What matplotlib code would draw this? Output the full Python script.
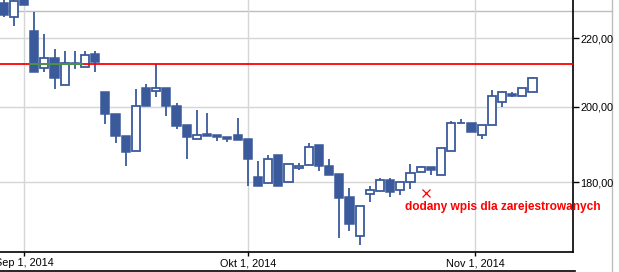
import numpy as np
import pandas as pd
import matplotlib
matplotlib.use("Agg")
import matplotlib.pyplot as plt
from matplotlib.lines import Line2D
from matplotlib.ticker import FixedLocator, NullLocator

plt.rcParams['font.family'] = ['Liberation Sans', 'DejaVu Sans']

# trading days 28.08.2014 - 10.11.2014
dates = pd.bdate_range("2014-08-28", "2014-11-10")

opens = [231.1, 226.7, 234.0, 222.3, 211.1, 214.1, 206.1, 212.6, 211.4, 215.3,
         204.1, 198.0, 192.0, 188.0, 205.3, 204.4, 205.3, 200.2, 195.0, 191.2,
         192.5, 192.3, 191.7, 192.3, 191.2, 181.3, 179.8, 187.0, 180.1, 183.5,
         184.4, 189.6, 184.1, 182.1, 176.3, 167.0, 177.1, 177.8, 180.6, 178.1,
         180.0, 182.6, 183.9, 181.9, 188.0, 195.4, 195.5, 192.3, 195.0, 201.3,
         203.6, 203.0, 204.1]
highs = [233.0, 233.5, 235.0, 228.2, 221.3, 216.8, 216.2, 216.2, 216.2, 216.2,
         204.1, 198.0, 192.0, 205.0, 206.4, 212.3, 205.3, 201.0, 195.0, 199.1,
         198.2, 192.3, 191.7, 196.9, 191.2, 185.4, 187.0, 187.0, 184.6, 184.9,
         190.1, 189.6, 185.9, 182.1, 178.6, 174.1, 179.1, 181.1, 181.1, 180.1,
         184.6, 184.1, 183.9, 188.8, 196.1, 196.6, 195.5, 195.0, 204.7, 204.4,
         204.1, 205.3, 208.5]
lows = [226.7, 223.8, 230.5, 209.9, 209.9, 205.0, 206.1, 210.8, 211.4, 209.9,
        195.2, 190.1, 184.1, 188.0, 200.2, 202.7, 197.4, 193.9, 185.9, 191.2,
        192.0, 190.7, 190.4, 190.9, 179.1, 179.1, 179.8, 179.1, 180.1, 183.1,
        184.4, 182.8, 181.8, 166.5, 168.2, 164.9, 175.1, 177.8, 176.3, 176.8,
        178.2, 182.6, 181.8, 181.9, 188.0, 195.4, 193.1, 191.2, 195.0, 199.9,
        202.7, 203.0, 204.1]
closes = [227.3, 231.8, 230.5, 209.9, 214.1, 208.2, 212.6, 212.3, 215.0, 212.9,
          198.0, 192.0, 187.8, 200.2, 200.2, 205.3, 200.2, 194.7, 191.7, 192.3,
          192.0, 191.7, 191.2, 190.9, 185.9, 179.1, 185.9, 179.1, 184.6, 184.1,
          189.1, 184.1, 181.8, 176.1, 169.8, 174.1, 178.1, 180.6, 177.6, 180.1,
          182.4, 183.9, 183.1, 188.8, 195.5, 195.6, 193.1, 195.0, 203.0, 204.1,
          203.0, 205.3, 208.2]

level = 212.2
y_ticks = [180, 200, 220]
y_labels = ["180,00", "200,00", "220,00"]
x_labels = ["Sep 1, 2014", "Okt 1, 2014", "Nov 1, 2014"]
note = "dodany wpis dla zarejestrowanych"

blue = "#3b5a9b"
grid = "#d6d6d6"

x = np.arange(len(dates))
o = np.array(opens); h = np.array(highs); l = np.array(lows); c = np.array(closes)
up = c >= o

fig = plt.figure(figsize=(6.19, 2.72), dpi=100)
ax = fig.add_axes([0, 20/272, 573/619, 252/272])
ax.patch.set_alpha(0)

# outer frame lines
fig.add_artist(Line2D([0, 612/619], [1-10.7/272]*2, transform=fig.transFigure,
                      color="#bdbdbd", lw=1, zorder=-5))
fig.add_artist(Line2D([612/619]*2, [0, 1], transform=fig.transFigure,
                      color="#bdbdbd", lw=1, zorder=-5))
fig.add_artist(Line2D([0, 575/619], [1.2/272]*2, transform=fig.transFigure,
                      color="black", lw=1.2))

ax.set_yscale("log")
ax.set_ylim(163.3, 232.1)
ax.set_xlim(-0.36, 55.98)

# whiskers
ax.vlines(x, l, h, color=blue, lw=1.3, zorder=2)
# bodies
lo = np.minimum(o, c); hi = np.maximum(o, c)
ax.bar(x[~up], (hi - lo)[~up], bottom=lo[~up], width=0.8, color=blue,
       edgecolor=blue, lw=1.1, zorder=3)
ax.bar(x[up], (hi - lo)[up], bottom=lo[up], width=0.8, color="white",
       edgecolor=blue, lw=1.3, zorder=3)

ax.axhline(level, color="red", lw=1.3, zorder=5)
ax.plot([2.6, 7.7], [level, level], color="#3aa04a", lw=1.3, zorder=6)

# grid
tick_pos = [2, 24, 46.35]
for t in y_ticks:
    ax.axhline(t, color=grid, lw=1, zorder=0)
for t in tick_pos:
    ax.axvline(t, color=grid, lw=1, zorder=0)

ax.yaxis.set_major_locator(FixedLocator(y_ticks))
ax.yaxis.set_minor_locator(NullLocator())
ax.set_yticklabels(y_labels)
ax.yaxis.tick_right()
ax.set_xticks(tick_pos)
ax.set_xticklabels(x_labels)
ax.tick_params(axis="both", labelsize=7.8, length=4, width=1, colors="black", pad=1.5)
ax.tick_params(axis="x", length=3)

for s in ["left", "top"]:
    ax.spines[s].set_visible(False)
for s in ["right", "bottom"]:
    ax.spines[s].set_linewidth(1.2)

ax.plot([41.48], [177.4], marker="x", color="red", ms=6, mew=0.9, zorder=7)
ax.text(39.45, 173.9, note, color="red", fontsize=8.6, fontweight="bold",
        va="center", ha="left", clip_on=False, zorder=7)

fig.savefig("out.png", dpi=100)
